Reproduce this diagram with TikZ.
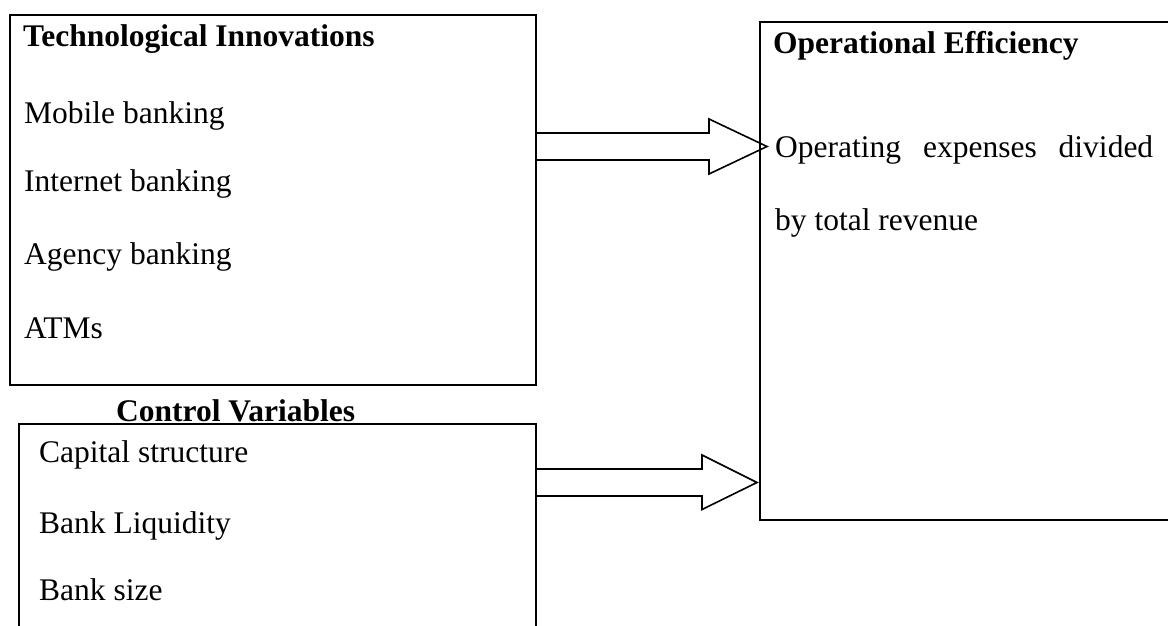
\documentclass[tikz,border=0pt]{standalone}
\usepackage{fontspec}
\setmainfont{Liberation Serif}
\usetikzlibrary{calc}
\begin{document}
\begin{tikzpicture}[x=1pt,y=-1pt,
  box/.style={draw=none, inner sep=0pt, outer sep=0pt, anchor=north west},
  frame/.style={line width=2pt},
  txt/.style={anchor=base west, inner sep=0pt, font=\fontsize{31.5}{36}\selectfont},
  ttl/.style={anchor=base west, inner sep=0pt, font=\fontsize{31.5}{36}\selectfont\bfseries},
  blockarrow/.style={line width=1.6pt, line join=miter}]
\useasboundingbox (0,0) rectangle (1168,626);
% boxes
\node[box, minimum width=526.5pt, minimum height=370pt] (tech) at (9.5,15) {};
\node[box, minimum width=517pt, minimum height=210pt] (ctrl) at (19,424) {};
\node[box, minimum width=412pt, minimum height=498pt] (eff) at (760,22) {};
\draw[frame] (tech.north west) rectangle (tech.south east);
\draw[frame] (ctrl.south west) -- (ctrl.north west) -- (ctrl.north east) -- (ctrl.south east);
\draw[frame] (eff.north east) -- (eff.north west) -- (eff.south west) -- (eff.south east);
% texts
\node[ttl] (t0) at (23,47) {Technological Innovations};
\node[txt] (t1) at (24,123) {Mobile banking};
\node[txt] (t2) at (24,191) {Internet banking};
\node[txt] (t3) at (24,264) {Agency banking};
\node[txt] (t4) at (24,338) {ATMs};
\node[ttl] (c0) at (116,421) {Control Variables};
\node[txt] (c1) at (39,462) {Capital structure};
\node[txt] (c2) at (39,533) {Bank Liquidity};
\node[txt] (c3) at (39,600) {Bank size};
\node[ttl] (e0) at (773,54) {Operational Efficiency};
\node[txt] (e1) at (775,157) {\makebox[378pt][s]{Operating expenses divided}};
\node[txt] (e2) at (775,230) {by total revenue};
% block arrows
\coordinate (tip1) at (767,146.5);
\coordinate (tip2) at (757,482.5);
\path (tech.east |- tip1) coordinate (s1);
\path (ctrl.east |- tip2) coordinate (s2);
\draw[blockarrow] (s1) ++(0,-13.5) -- ++(173,0) -- ++(0,-14) -- (tip1)
  -- ++(-58,27.5) -- ++(0,-14) -- ++(-173,0);
\draw[blockarrow] (s2) ++(0,-13.5) -- ++(166,0) -- ++(0,-14) -- (tip2)
  -- ++(-55,27) -- ++(0,-13.5) -- ++(-166,0);
\end{tikzpicture}
\end{document}
